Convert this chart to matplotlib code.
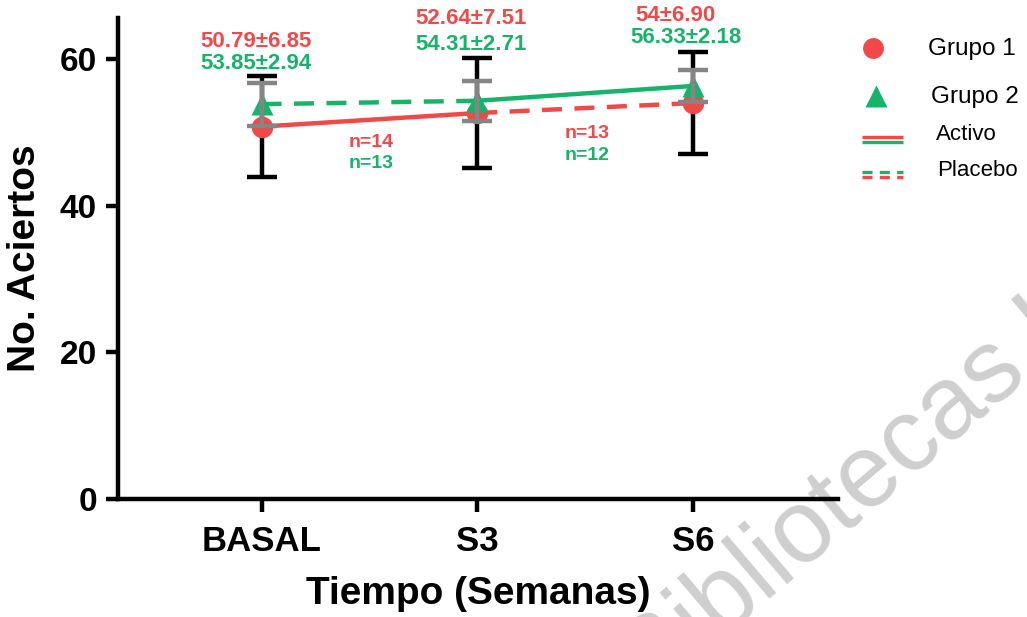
import matplotlib
matplotlib.use("Agg")
import matplotlib.pyplot as plt
import numpy as np

# ---------------- data ----------------
categories = ["BASAL", "S3", "S6"]
grupo1_mean = [50.79, 52.64, 54.0]
grupo1_sd = [6.85, 7.51, 6.90]
grupo2_mean = [53.85, 54.31, 56.33]
grupo2_sd = [2.94, 2.71, 2.18]
grupo1_labels = ["50.79\u00b16.85", "52.64\u00b17.51", "54\u00b16.90"]
grupo2_labels = ["53.85\u00b12.94", "54.31\u00b12.71", "56.33\u00b12.18"]
n_grupo1 = ["n=14", "n=13"]
n_grupo2 = ["n=13", "n=12"]
yticks = [0, 20, 40, 60]

RED = "#f24848"
GREEN = "#16b46a"
GRAY = "#858585"

plt.rcParams['font.family'] = ['Liberation Sans', 'DejaVu Sans']

W, H = 1027, 617
fig = plt.figure(figsize=(W / 100, H / 100), dpi=100)

# watermark (behind everything)
fig.text(0.634, -0.131, "Bibliotecas UNAM", fontsize=74, color="#cfcfcf",
         rotation=40.3, rotation_mode='anchor', ha='left', va='baseline', zorder=-5)

ax = fig.add_axes([117.7 / W, (H - 499) / H, (838 - 117.7) / W, (499 - 18) / H])

x = np.arange(len(categories))

# error bars group 1 (black)
ax.errorbar(x, grupo1_mean, yerr=grupo1_sd, fmt='none', ecolor='black',
            elinewidth=3.2, capsize=11, capthick=3.2, zorder=2)

# connecting lines
ax.plot(x[:2], grupo1_mean[:2], color=RED, lw=3.2, solid_capstyle='butt', zorder=3)
ax.plot(x[1:], grupo1_mean[1:], color=RED, lw=3.2, ls=(0, (4.5, 2.8)), zorder=3)
ax.plot(x[:2], grupo2_mean[:2], color=GREEN, lw=3.2, ls=(0, (4.5, 2.8)), zorder=3)
ax.plot(x[1:], grupo2_mean[1:], color=GREEN, lw=3.2, solid_capstyle='butt', zorder=3)

# markers
ax.plot(x, grupo1_mean, 'o', color=RED, ms=15.5, mec='none', zorder=4)
ax.plot(x, grupo2_mean, '^', color=GREEN, ms=16, mec='none', zorder=5)

# error bars group 2 (gray)
ax.errorbar(x, grupo2_mean, yerr=grupo2_sd, fmt='none', ecolor=GRAY,
            elinewidth=3.2, capsize=11, capthick=3.2, zorder=6)

# annotations
red_off = [(-0.025, 62.4), (0.97, 65.5), (1.92, 65.9)]
green_off = [(-0.025, 59.4), (0.97, 62.0), (1.97, 62.9)]
for i in range(3):
    ax.text(red_off[i][0], red_off[i][1], grupo1_labels[i], color=RED,
            fontsize=16, fontweight='bold', ha='center', va='center', clip_on=False)
    ax.text(green_off[i][0], green_off[i][1], grupo2_labels[i], color=GREEN,
            fontsize=16, fontweight='bold', ha='center', va='center', clip_on=False)
n_pos = [(0.51, 48.6, 45.8), (1.51, 49.8, 46.9)]
for i in range(2):
    ax.text(n_pos[i][0], n_pos[i][1], n_grupo1[i], color=RED, fontsize=14,
            fontweight='bold', ha='center', va='center')
    ax.text(n_pos[i][0], n_pos[i][2], n_grupo2[i], color=GREEN, fontsize=14,
            fontweight='bold', ha='center', va='center')

ax.set_xlim(-0.667, 2.673)
ax.set_ylim(0, 65.6)
ax.set_xticks(x)
ax.set_xticklabels(categories, fontsize=25, fontweight='bold')
ax.set_yticks(yticks)
ax.set_yticklabels([str(v) for v in yticks], fontsize=24, fontweight='bold')
ax.tick_params(axis='x', length=9, width=3.2, direction='out', pad=10)
ax.tick_params(axis='y', length=9, width=3.2, direction='out', pad=6)
for s in ['top', 'right']:
    ax.spines[s].set_visible(False)
for s in ['left', 'bottom']:
    ax.spines[s].set_linewidth(3.2)
ax.set_xlabel("Tiempo (Semanas)", fontsize=28, fontweight='bold', labelpad=13)
ax.set_ylabel("No. Aciertos", fontsize=28, fontweight='bold', labelpad=12)
ax.set_facecolor('none')

# legend (manual, pixel coordinates)
lax = fig.add_axes([840 / W, 0, (W - 840) / W, 1])
lax.set_xlim(840, W)
lax.set_ylim(H, 0)
lax.axis('off')
lax.plot([873], [48], 'o', color=RED, ms=15, mec='none')
lax.plot([876], [96], '^', color=GREEN, ms=16, mec='none')
lax.plot([862, 903], [137, 137], color=RED, lw=2.4, solid_capstyle='butt')
lax.plot([862, 903], [142, 142], color=GREEN, lw=2.4, solid_capstyle='butt')
lax.plot([862, 903], [172, 172], color=GREEN, lw=2.4, ls=(0, (3, 2.2)))
lax.plot([862, 903], [177, 177], color=RED, lw=2.4, ls=(0, (3, 2.2)))
lax.text(928, 49, "Grupo 1", fontsize=17.5, ha='left', va='center')
lax.text(931, 97, "Grupo 2", fontsize=17.5, ha='left', va='center')
lax.text(936, 134, "Activo", fontsize=16, ha='left', va='center')
lax.text(937, 171, "Placebo", fontsize=16, ha='left', va='center')

fig.savefig("out.png", dpi=100)
